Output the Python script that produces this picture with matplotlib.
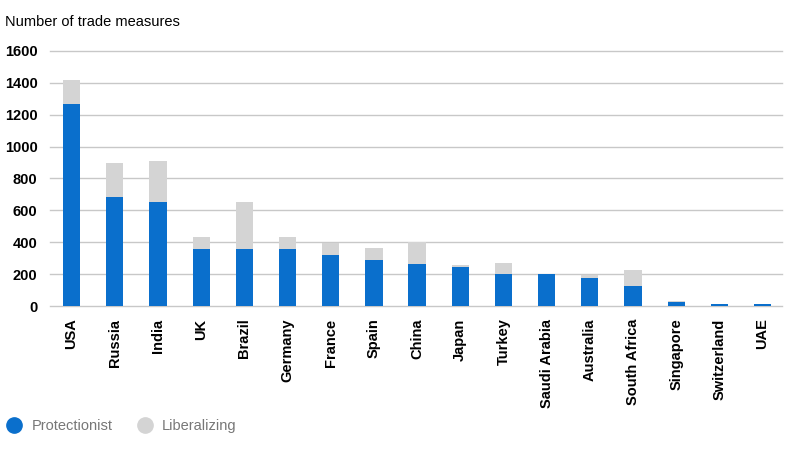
import matplotlib.pyplot as plt
from matplotlib.lines import Line2D

plt.rcParams['font.family'] = ['Liberation Sans', 'DejaVu Sans']

countries = ["USA", "Russia", "India", "UK", "Brazil", "Germany", "France", "Spain",
             "China", "Japan", "Turkey", "Saudi Arabia", "Australia", "South Africa",
             "Singapore", "Switzerland", "UAE"]
protectionist = [1270, 685, 650, 358, 355, 355, 318, 290, 263, 242, 200, 198, 178, 125, 27, 10, 10]
liberalizing = [150, 215, 260, 78, 300, 78, 75, 76, 140, 13, 72, 3, 18, 99, 3, 1, 1]
yticks = [0, 200, 400, 600, 800, 1000, 1200, 1400, 1600]

blue = "#0a6fcc"
grey = "#d4d4d4"

fig = plt.figure(figsize=(8, 4.51), dpi=100)
ax = fig.add_axes([0.0625, 0.3215, 0.915, 0.5655])

x = range(len(countries))
ax.bar(x, protectionist, width=0.4, color=blue, zorder=3)
ax.bar(x, liberalizing, width=0.4, bottom=protectionist, color=grey, zorder=3)

ax.set_xlim(-0.5, 16.45)
ax.set_ylim(0, 1600)
ax.set_yticks(yticks)
ax.set_yticklabels([str(v) for v in yticks], fontsize=10.5, fontweight="bold")
ax.yaxis.grid(True, color="#c8c8c8", linewidth=1)
for gl in ax.get_ygridlines():
    gl.set_clip_on(False)
ax.set_xticks(list(x))
ax.set_xticklabels(countries, rotation=90, fontsize=10.5, fontweight="bold")
ax.tick_params(axis="x", length=0, pad=9)
ax.tick_params(axis="y", length=0, pad=9)
for s in ax.spines.values():
    s.set_visible(False)

fig.text(0.006, 0.951, "Number of trade measures", fontsize=10.5, va="center", ha="left")

# legend with round markers below the chart
handles = [Line2D([], [], marker="o", linestyle="", markersize=11, color=blue),
           Line2D([], [], marker="o", linestyle="", markersize=11, color=grey)]
fig.legend(handles, ["Protectionist", "Liberalizing"], loc="center left",
           bbox_to_anchor=(-0.017, 0.055), ncol=2, frameon=False, fontsize=10.5,
           labelcolor="#777777", handletextpad=0.2, columnspacing=1.2)

fig.savefig("out.png", dpi=100)
